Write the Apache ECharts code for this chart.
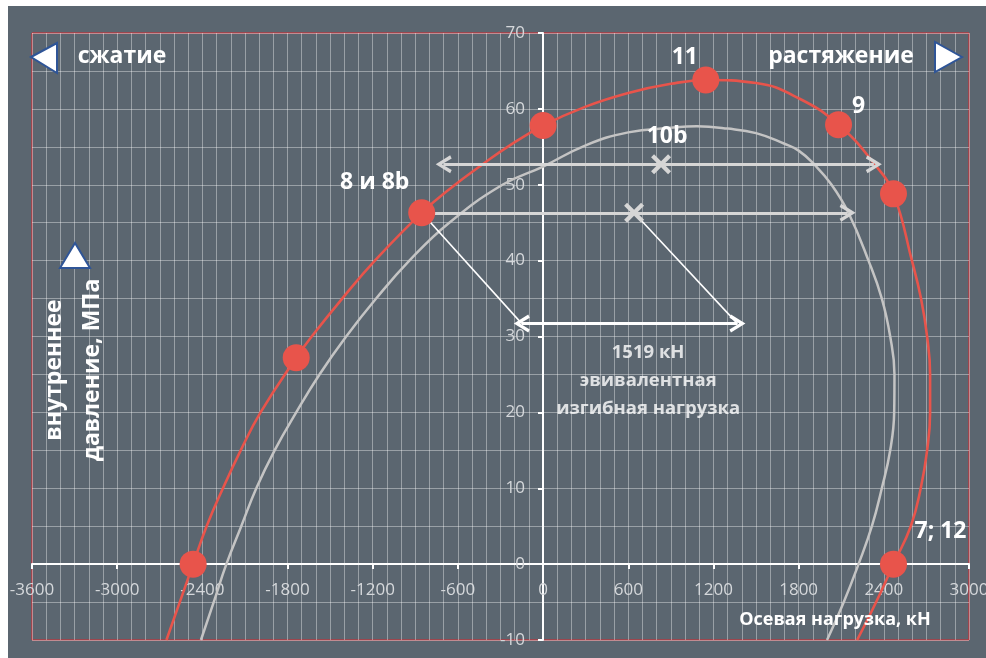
<!DOCTYPE html>
<html>
<head>
<meta charset="utf-8">
<script src="https://cdn.jsdelivr.net/npm/echarts@6/dist/echarts.min.js"></script>
<style>
  html, body { margin: 0; padding: 0; background: #ffffff; width: 986px; height: 658px; overflow: hidden; }
  #chart { position: absolute; left: 8px; top: 6px; width: 978px; height: 652px; background: #5b6670; }
</style>
</head>
<body>
<div id="chart"></div>
<script>
// ---- data ----
const xRange = [-3600, 3000, 600];   // min, max, interval (kN)
const yRange = [-10, 70, 10];        // min, max, interval (MPa)

// red envelope (axial load kN, internal pressure MPa)
const redCurve = [
  [-2653, -10], [-2559, -5], [-2465, 0], [-2370, 5], [-2255, 10], [-2130, 15], [-1990, 20],
  [-1739, 27.2], [-1630, 30], [-1415, 35], [-1185, 40], [-855, 46.3], [-620, 50],
  [-425, 52.7], [-250, 55], [0, 57.8], [300, 60.3], [600, 62.1], [900, 63.3], [1146, 63.8],
  [1500, 63.4], [1800, 61.4], [2081, 57.9], [2335, 52.7], [2468, 48.8], [2598, 40],
  [2662, 35], [2705, 30], [2726, 25], [2726, 20], [2705, 15], [2660, 10], [2590, 5],
  [2468, 0], [2346, -5], [2212, -10]
];
// grey envelope
const greyCurve = [
  [-2410, -10], [-2320, -5], [-2231, 0], [-2126, 5], [-2020, 10], [-1891, 15], [-1739, 20],
  [-1575, 25], [-1387, 30], [-1176, 35], [-942, 40], [-661, 45], [-286, 50], [0, 52.4],
  [300, 55.2], [600, 56.9], [900, 57.5], [1083, 57.7], [1300, 57.4], [1500, 56.8], [1700, 55.4],
  [1800, 54.5], [1909, 52.7], [2032, 50], [2151, 46.3], [2292, 40], [2386, 35], [2445, 30],
  [2475, 25], [2473, 20], [2445, 15], [2386, 10], [2316, 5], [2222, 0], [2118, -5], [2000, -10]
];
// red test points and their labels
const testPoints = [
  [-2465, 0], [-1739, 27.2], [-855, 46.3], [0, 57.8], [1146, 63.8], [2081, 57.9], [2468, 48.8], [2468, 0]
];
const testLabels = ['', '', '8 и 8b', '', '11', '9', '', '7; 12'];
// cross markers (centres of shifted load ranges)
const crossPoints = [[831, 52.7], [641, 46.3]];
const crossLabels = ['10b', ''];
// double arrows: [x1, x2, y]
const greyArrows = [[-700, 2330, 52.7], [-865, 2145, 46.3]];
const bendArrow = [-150, 1369, 31.7];   // 1519 kN equivalent bending load
const bendText = ['1519 кН', 'эвивалентная', 'изгибная нагрузка'];
const axisTitleX = 'Осевая нагрузка, кН';
const axisTitleY = ['внутреннее', 'давление, МПа'];
const sideTitles = ['сжатие', 'растяжение'];

// ---- styles ----
const FONT = '"Open Sans", "Noto Sans", sans-serif';
const RED = '#e8544b';
const GREY = '#c4c4c4';
const ARROW = '#d6d6d6';
const GRID = 'rgba(255,255,255,0.38)';
const chevron = 'path://M0,15 L8,0 L16,15 L13.2,16.6 L8,6.4 L2.8,16.6 Z';
const crossPath = 'path://M0,3 L3,0 L10,7 L17,0 L20,3 L13,10 L20,17 L17,20 L10,13 L3,20 L0,17 L7,10 Z';
const labelOffsets = {2: [-47, -30], 4: [-21, -23], 5: [20, -18], 7: [47, -33]};
const GRID_BOX = {left: 24, top: 27, right: 17, bottom: 18};

const chart = echarts.init(document.getElementById('chart'), null, {renderer: 'canvas'});

const markLines = [];
greyArrows.forEach(a => {
  markLines.push([
    {coord: [a[0], a[2]], symbol: chevron, symbolSize: [18, 16], lineStyle: {color: ARROW, width: 3.2, type: 'solid'}},
    {coord: [a[1], a[2]], symbol: chevron, symbolSize: [18, 16]}
  ]);
});
markLines.push([
  {coord: [bendArrow[0], bendArrow[2]], symbol: chevron, symbolSize: [18, 16], lineStyle: {color: '#ffffff', width: 3, type: 'solid'}},
  {coord: [bendArrow[1], bendArrow[2]], symbol: chevron, symbolSize: [18, 16]}
]);
markLines.push([
  {coord: testPoints[2], symbol: 'none', lineStyle: {color: '#ffffff', width: 1.6, type: 'solid'}},
  {coord: [bendArrow[0], bendArrow[2]], symbol: 'none'}
]);
markLines.push([
  {coord: crossPoints[1], symbol: 'none', lineStyle: {color: '#ffffff', width: 1.6, type: 'solid'}},
  {coord: [bendArrow[1], bendArrow[2]], symbol: 'none'}
]);

const boldLabel = {color: '#ffffff', fontFamily: FONT, fontWeight: 'bold'};
const axisCommon = {
  axisLine: {onZero: false, lineStyle: {color: '#ffffff', width: 2}},
  axisTick: {show: true, length: 5, lineStyle: {color: '#ffffff', width: 2}},
  splitLine: {show: true, lineStyle: {color: GRID, width: 1}},
  minorSplitLine: {show: true, lineStyle: {color: GRID, width: 1}}
};

const option = {
  animation: false,
  backgroundColor: 'transparent',
  grid: Object.assign({show: true, borderColor: '#e0242a', borderWidth: 1, backgroundColor: 'transparent',
    containLabel: false, outerBoundsMode: 'none'}, GRID_BOX),
  xAxis: Object.assign({
    type: 'value', min: xRange[0], max: xRange[1], interval: xRange[2], position: 'bottom', offset: 0,
    axisLabel: {color: '#d5d8db', fontFamily: FONT, fontSize: 17, margin: 18, showMinLabel: true, showMaxLabel: true, formatter: v => String(v)},
    minorTick: {show: false, splitNumber: 6}
  }, axisCommon),
  yAxis: Object.assign({
    type: 'value', min: yRange[0], max: yRange[1], interval: yRange[2], position: 'left', offset: 0,
    axisLabel: {color: '#d5d8db', fontFamily: FONT, fontSize: 17, margin: 18, showMinLabel: true, showMaxLabel: true, formatter: v => String(v)},
    minorTick: {show: false, splitNumber: 2}
  }, axisCommon),
  series: [
    {
      type: 'line', data: greyCurve, smooth: 0.45, symbol: 'none', z: 3,
      lineStyle: {color: GREY, width: 2.5}
    },
    {
      type: 'line', data: redCurve, smooth: 0.45, symbol: 'none', z: 4,
      lineStyle: {color: RED, width: 2.6}
    },
    {
      type: 'scatter', z: 5, symbol: crossPath, symbolSize: 20,
      itemStyle: {color: ARROW, opacity: 1},
      data: crossPoints.map((p, i) => ({
        value: p,
        label: {show: !!crossLabels[i], formatter: crossLabels[i], position: 'inside', offset: [6, -28], fontSize: 23, ...boldLabel}
      })),
      markLine: {silent: true, animation: false, label: {show: false}, lineStyle: {type: 'solid'}, data: markLines}
    },
    {
      type: 'scatter', z: 6, symbol: 'circle', symbolSize: 27,
      itemStyle: {color: RED, opacity: 1},
      data: testPoints.map((p, i) => ({
        value: p,
        label: {show: !!testLabels[i], formatter: testLabels[i], position: 'inside', offset: labelOffsets[i] || [0, 0], fontSize: 23, ...boldLabel}
      }))
    },
    {
      type: 'scatter', z: 6, symbolSize: 0, silent: true,
      data: [{
        value: [740, bendArrow[2]],
        label: {show: true, formatter: bendText.join('\n'), position: 'inside', offset: [0, 57], fontSize: 18.5, lineHeight: 28, align: 'center', ...boldLabel}
      }]
    }
  ],
  graphic: [
    {type: 'polygon', shape: {points: [[23, 51], [49, 37], [49, 67]]}, style: {fill: '#ffffff', stroke: '#2f5597', lineWidth: 2}, z: 100},
    {type: 'polygon', shape: {points: [[954, 51], [927, 36], [927, 66]]}, style: {fill: '#ffffff', stroke: '#2f5597', lineWidth: 2}, z: 100},
    {type: 'polygon', shape: {points: [[67, 237], [52, 262], [82, 262]]}, style: {fill: '#ffffff', stroke: '#2f5597', lineWidth: 2}, z: 100},
    {type: 'text', x: 114, y: 50, z: 100, style: {text: sideTitles[0], fill: '#ffffff', font: 'bold 23px ' + FONT, textAlign: 'center', textVerticalAlign: 'middle'}},
    {type: 'text', x: 833, y: 50, z: 100, style: {text: sideTitles[1], fill: '#ffffff', font: 'bold 23px ' + FONT, textAlign: 'center', textVerticalAlign: 'middle'}},
    {type: 'text', x: 827, y: 614, z: 100, style: {text: axisTitleX, fill: '#ffffff', font: 'bold 18px ' + FONT, textAlign: 'center', textVerticalAlign: 'middle'}},
    {type: 'text', x: 65, y: 364, rotation: Math.PI / 2, z: 100, style: {text: axisTitleY.join('\n'), fill: '#ffffff', font: 'bold 23px ' + FONT, lineHeight: 38, textAlign: 'center', textVerticalAlign: 'middle'}}
  ]
};
chart.setOption(option);

// put the axis lines through the origin (derived from the axis scales)
function placeAxes() {
  const origin = chart.convertToPixel({gridIndex: 0}, [0, 0]);
  const corner = chart.convertToPixel({gridIndex: 0}, [xRange[0], yRange[0]]);
  chart.setOption({
    xAxis: {offset: Math.round(origin[1] - corner[1])},
    yAxis: {offset: Math.round(corner[0] - origin[0])}
  });
}
placeAxes();
placeAxes();
</script>
</body>
</html>
